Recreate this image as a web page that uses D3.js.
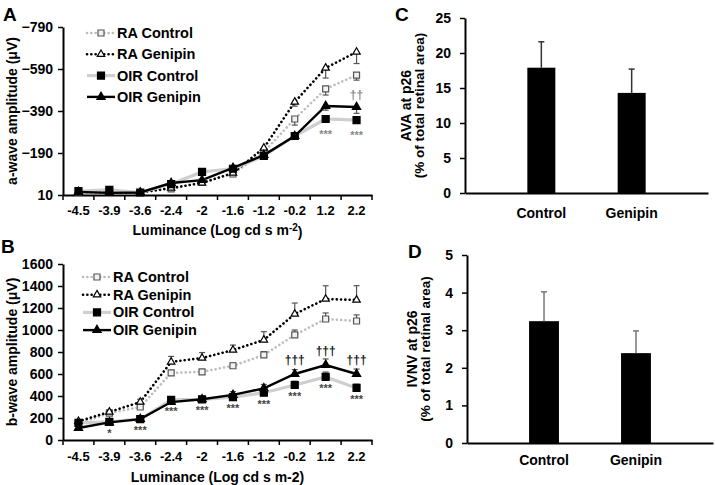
<!DOCTYPE html>
<html>
<head>
<meta charset="utf-8">
<script src="https://d3js.org/d3.v7.min.js"></script>
<style>
	body { margin: 0; background: #fff; }
	text { font-family: "Liberation Sans", Arial, sans-serif; font-weight: bold; fill: #000; }
</style>
</head>
<body>
<svg id="fig" width="715" height="485"></svg>
<script>
// categories
var luminance = ["-4.5", "-3.9", "-3.6", "-2.4", "-2", "-1.6", "-1.2", "-0.2", "1.2", "2.2"];
var groups = ["Control", "Genipin"];

// panel A : a-wave (uV)
var raControlA    = [-5, -5, -2, -19, -52, -90, -195, -352, -495, -561];
var raControlAErr = [5, 5, 5, 8, 10, 12, 15, 29, 29, 24];
var raGenipinA    = [-5, -3, -2, -23, -47, -95, -214, -433, -595, -671];
var raGenipinAErr = [5, 5, 5, 8, 10, 12, 15, 20, 48, 55];
var oirControlA    = [-9, -14, -2, -42, -100, -115, -176, -271, -352, -347];
var oirControlAErr = [4, 4, 4, 6, 8, 8, 10, 12, 12, 10];
var oirGenipinA    = [-4, 0, -2, -47, -61, -119, -180, -271, -414, -409];
var oirGenipinAErr = [4, 4, 4, 6, 8, 8, 10, 12, 20, 30];
var ticksA = [10, -190, -390, -590, -790];
var starsA   = ["", "", "", "", "", "", "", "", "***", "***"];
var daggersA = ["", "", "", "", "", "", "", "", "", "††"];

// panel B : b-wave (uV)
var raControlB    = [150, 245, 300, 610, 620, 675, 773, 955, 1100, 1082];
var raControlBErr = [15, 20, 25, 20, 20, 25, 30, 45, 55, 55];
var raGenipinB    = [170, 255, 345, 710, 745, 818, 910, 1145, 1282, 1273];
var raGenipinBErr = [15, 20, 25, 50, 50, 45, 75, 100, 120, 130];
var oirControlB    = [155, 164, 190, 365, 370, 390, 430, 500, 573, 473];
var oirControlBErr = [15, 15, 15, 25, 25, 30, 30, 35, 45, 35];
var oirGenipinB    = [109, 160, 190, 345, 370, 410, 470, 600, 682, 600];
var oirGenipinBErr = [15, 15, 15, 25, 25, 30, 35, 40, 55, 45];
var ticksB = [0, 200, 400, 600, 800, 1000, 1200, 1400, 1600];
var starsB   = ["", "*", "***", "***", "***", "***", "***", "***", "***", "***"];
var daggersB = ["", "", "", "", "", "", "", "†††", "†††", "†††"];

// panel C : AVA, panel D : IVNV
var avaMean = [17.9, 14.3];
var avaErr  = [3.7, 3.4];
var ticksC  = [0, 5, 10, 15, 20, 25];
var ivnvMean = [3.24, 2.39];
var ivnvErr  = [0.78, 0.59];
var ticksD   = [0, 1, 2, 3, 4, 5];

var svg = d3.select("#fig");

// line styles for the four series (legend order)
var styles = [
	{name: "RA Control",  line: "#bdbdbd", width: 2.6, dash: "0.1,4.2", shape: d3.symbolSquare,   size: 36, fill: "#f2f2f2", stroke: "#555"},
	{name: "RA Genipin",  line: "#000",    width: 2.6, dash: "0.1,4.2", shape: d3.symbolTriangle, size: 24, fill: "#fff",    stroke: "#000"},
	{name: "OIR Control", line: "#cfcfcf", width: 3.2, dash: null,      shape: d3.symbolSquare,   size: 49, fill: "#000",    stroke: "#000"},
	{name: "OIR Genipin", line: "#000",    width: 2.4, dash: null,      shape: d3.symbolTriangle, size: 30, fill: "#000",    stroke: "#000"}
];

function styleAxis(g, fontSize) {
	g.select(".domain").attr("stroke", "#000").attr("stroke-width", 2);
	g.selectAll(".tick line").attr("stroke", "#000").attr("stroke-width", 1.5);
	g.selectAll(".tick text").style("font-size", fontSize + "px").style("font-family", "Liberation Sans, Arial, sans-serif").style("font-weight", "bold").attr("fill", "#000");
}

function drawLinePanel(p) {
	var x = d3.scaleBand().domain(luminance).range([p.left, p.right]);
	var y = d3.scaleLinear().domain(p.domain).range([p.bottom, p.top]);
	var cx = function(i) { return x(luminance[i]) + x.bandwidth() / 2; };
	var g = svg.append("g");

	// y axis
	var yAxisG = g.append("g")
		.attr("transform", "translate(" + p.left + ",0)")
		.call(d3.axisLeft(y).tickValues(p.ticks).tickSize(5).tickSizeOuter(0).tickPadding(5).tickFormat(d3.format("d")));
	styleAxis(yAxisG, 14);

	// x axis, labels in the middle of each band, ticks between
	var xAxisG = g.append("g")
		.attr("transform", "translate(0," + p.bottom + ")")
		.call(d3.axisBottom(x).tickSize(0).tickSizeOuter(0).tickPadding(p.xPad));
	styleAxis(xAxisG, 13);
	xAxisG.selectAll(".between")
		.data(luminance.concat(["end"]))
		.enter().append("line")
		.attr("x1", d => d == "end" ? p.right : x(d))
		.attr("x2", d => d == "end" ? p.right : x(d))
		.attr("y1", 0).attr("y2", 5)
		.attr("stroke", "#000").attr("stroke-width", 1.5);

	var line = d3.line().x((d, i) => cx(i)).y(d => y(d));

	// lines
	p.series.forEach(function(s, k) {
		var st = styles[k];
		g.append("path")
			.attr("d", line(s.values))
			.attr("fill", "none")
			.attr("stroke", st.line)
			.attr("stroke-width", st.width)
			.attr("stroke-dasharray", st.dash)
			.attr("stroke-linecap", st.dash ? "round" : "butt");
	});

	// error bars (plus direction)
	p.series.forEach(function(s) {
		var eb = g.append("g").attr("stroke", "#555").attr("stroke-width", 1.2);
		s.values.forEach(function(v, i) {
			eb.append("line").attr("x1", cx(i)).attr("x2", cx(i)).attr("y1", y(v)).attr("y2", y(v + s.err[i]));
			eb.append("line").attr("x1", cx(i) - 3).attr("x2", cx(i) + 3).attr("y1", y(v + s.err[i])).attr("y2", y(v + s.err[i]));
		});
	});

	// markers
	p.series.forEach(function(s, k) {
		var st = styles[k];
		g.selectAll(null)
			.data(s.values)
			.enter().append("path")
			.attr("d", d3.symbol().type(st.shape).size(st.size))
			.attr("transform", (d, i) => "translate(" + cx(i) + "," + y(d) + ")")
			.attr("fill", st.fill)
			.attr("stroke", st.stroke)
			.attr("stroke-width", 1.2);
	});

	// significance marks
	g.selectAll(null)
		.data(p.stars)
		.enter().append("text")
		.attr("x", (d, i) => cx(i))
		.attr("y", (d, i) => y(p.series[2].values[i]) + p.starDy)
		.attr("text-anchor", "middle")
		.style("font-size", "11px")
		.style("fill", p.starColor)
		.text(d => d);
	g.selectAll(null)
		.data(p.daggers)
		.enter().append("text")
		.attr("x", (d, i) => cx(i))
		.attr("y", (d, i) => y(p.series[3].values[i]) + p.daggerDy)
		.attr("text-anchor", "middle")
		.style("font-size", "12px")
		.style("fill", p.daggerColor)
		.text(d => d);

	// legend
	styles.forEach(function(st, k) {
		var ly = p.legendY + k * p.legendStep;
		g.append("line")
			.attr("x1", p.legendX).attr("x2", p.legendX + 28)
			.attr("y1", ly).attr("y2", ly)
			.attr("stroke", st.line)
			.attr("stroke-width", st.width)
			.attr("stroke-dasharray", st.dash)
			.attr("stroke-linecap", st.dash ? "round" : "butt");
		g.append("path")
			.attr("d", d3.symbol().type(st.shape).size(st.size))
			.attr("transform", "translate(" + (p.legendX + 14) + "," + ly + ")")
			.attr("fill", st.fill).attr("stroke", st.stroke).attr("stroke-width", 1.2);
		g.append("text")
			.attr("x", p.legendX + 30).attr("y", ly + 5)
			.style("font-size", "14.5px")
			.text(st.name);
	});

	// titles
	g.append("text")
		.attr("transform", "translate(" + p.yTitleX + "," + ((p.top + p.bottom) / 2) + ") rotate(-90)")
		.attr("text-anchor", "middle")
		.style("font-size", "14px")
		.text(p.yTitle);
	var xt = g.append("text")
		.attr("x", (p.left + p.right) / 2)
		.attr("y", p.xTitleY)
		.attr("text-anchor", "middle")
		.style("font-size", "14px");
	p.xTitle(xt);
	g.append("text")
		.attr("x", p.labelX).attr("y", p.labelY)
		.style("font-size", "19px")
		.text(p.label);
}

function drawBarPanel(p) {
	var x = d3.scaleBand().domain(groups).range([p.left, p.right]).padding(p.padding);
	var y = d3.scaleLinear().domain([0, p.ticks[p.ticks.length - 1]]).range([p.bottom, p.top]);
	var g = svg.append("g");

	g.selectAll(null)
		.data(p.mean)
		.enter().append("rect")
		.attr("x", (d, i) => x(groups[i]))
		.attr("width", x.bandwidth())
		.attr("y", d => y(d))
		.attr("height", d => p.bottom - y(d))
		.attr("fill", "#000");

	p.mean.forEach(function(v, i) {
		var c = x(groups[i]) + x.bandwidth() / 2;
		g.append("line").attr("x1", c).attr("x2", c).attr("y1", y(v)).attr("y2", y(v + p.err[i]))
			.attr("stroke", p.errColor).attr("stroke-width", 1.5);
		g.append("line").attr("x1", c - 3).attr("x2", c + 3).attr("y1", y(v + p.err[i])).attr("y2", y(v + p.err[i]))
			.attr("stroke", p.errColor).attr("stroke-width", 1.5);
	});

	var yAxisG = g.append("g")
		.attr("transform", "translate(" + p.left + ",0)")
		.call(d3.axisLeft(y).tickValues(p.ticks).tickSize(5).tickSizeOuter(0).tickPadding(9).tickFormat(d3.format("d")));
	styleAxis(yAxisG, 14);
	var xAxisG = g.append("g")
		.attr("transform", "translate(0," + p.bottom + ")")
		.call(d3.axisBottom(x).tickSize(0).tickSizeOuter(0).tickPadding(p.xPad));
	styleAxis(xAxisG, 14);

	var yt = g.append("text")
		.attr("transform", "translate(" + p.yTitleX + "," + ((p.top + p.bottom) / 2) + ") rotate(-90)")
		.attr("text-anchor", "middle")
		.style("font-size", "14px");
	yt.append("tspan").attr("x", 0).attr("dy", "-0.1em").text(p.yTitle);
	yt.append("tspan").attr("x", 0).attr("dy", "1.0em").style("font-size", "13.5px").text("(% of total retinal area)");

	g.append("text")
		.attr("x", p.labelX).attr("y", p.labelY)
		.style("font-size", "19px")
		.text(p.label);
}

drawLinePanel({
	left: 63, right: 372, top: 27, bottom: 195, xPad: 11,
	domain: [10, -790], ticks: ticksA,
	series: [
		{values: raControlA, err: raControlAErr},
		{values: raGenipinA, err: raGenipinAErr},
		{values: oirControlA, err: oirControlAErr},
		{values: oirGenipinA, err: oirGenipinAErr}
	],
	stars: starsA, starDy: 19, starColor: "#888",
	daggers: daggersA, daggerDy: -8, daggerColor: "#888",
	legendX: 87, legendY: 33, legendStep: 21.3,
	yTitle: "a-wave amplitude (μV)", yTitleX: 17,
	xTitleY: 235,
	xTitle: function(t) {
		t.append("tspan").text("Luminance (Log cd s m");
		t.append("tspan").attr("dy", "-0.4em").style("font-size", "10px").text("-2");
		t.append("tspan").attr("dy", "0.4em").text(")");
	},
	label: "A", labelX: 3, labelY: 21
});

drawLinePanel({
	left: 63, right: 372, top: 264, bottom: 440, xPad: 12,
	domain: [0, 1600], ticks: ticksB,
	series: [
		{values: raControlB, err: raControlBErr},
		{values: raGenipinB, err: raGenipinBErr},
		{values: oirControlB, err: oirControlBErr},
		{values: oirGenipinB, err: oirGenipinBErr}
	],
	stars: starsB, starDy: 15, starColor: "#444",
	daggers: daggersB, daggerDy: -10, daggerColor: "#111",
	legendX: 83, legendY: 277, legendStep: 17.7,
	yTitle: "b-wave amplitude (μV)", yTitleX: 17,
	xTitleY: 482,
	xTitle: function(t) { t.text("Luminance (Log cd s m-2)"); },
	label: "B", labelX: 1, labelY: 253
});

drawBarPanel({
	left: 465, right: 708, top: 18, bottom: 193, padding: 0.69, xPad: 15,
	mean: avaMean, err: avaErr, ticks: ticksC, errColor: "#333",
	yTitle: "AVA at p26", yTitleX: 412,
	label: "C", labelX: 395, labelY: 21
});

drawBarPanel({
	left: 467, right: 713, top: 255, bottom: 443, padding: 0.675, xPad: 12,
	mean: ivnvMean, err: ivnvErr, ticks: ticksD, errColor: "#777",
	yTitle: "IVNV at p26", yTitleX: 418,
	label: "D", labelX: 408, labelY: 258
});
</script>
</body>
</html>
